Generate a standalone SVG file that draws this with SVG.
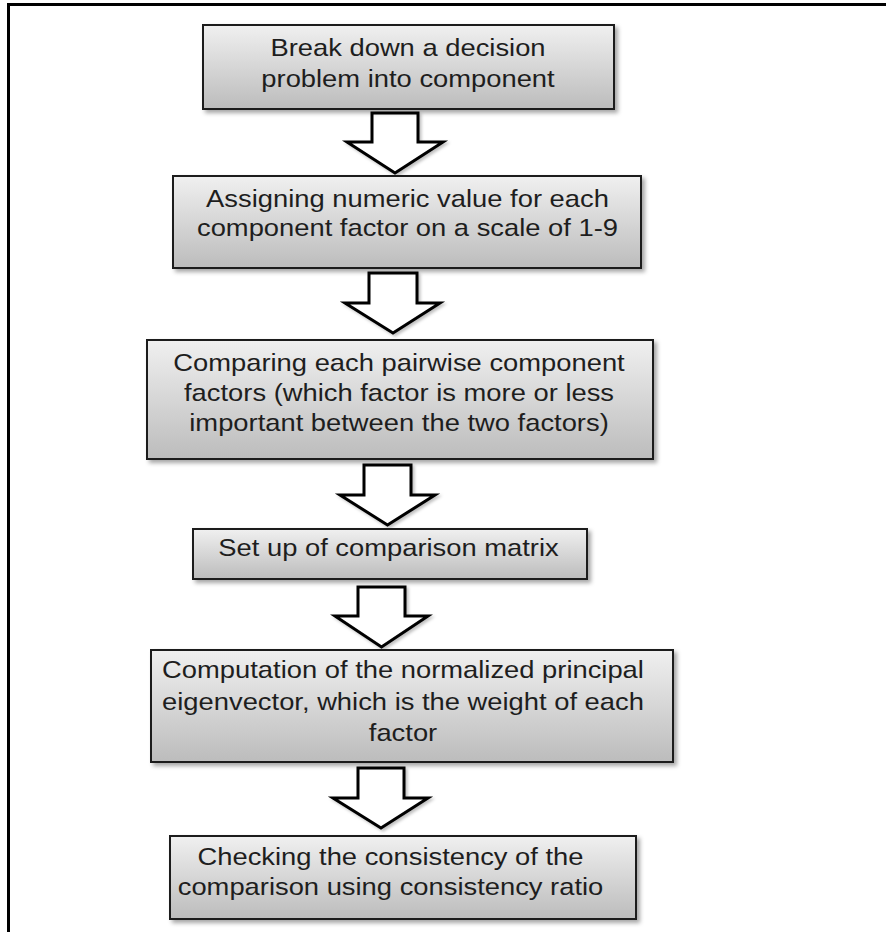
<svg xmlns="http://www.w3.org/2000/svg" width="886" height="932" viewBox="0 0 886 932">
  <style>
    .box { fill: url(#boxGrad); stroke: #1c1c1c; stroke-width: 2; filter: url(#shadow); }
    .arrow { fill: #ffffff; stroke: #000000; stroke-width: 3; stroke-linejoin: miter; filter: url(#shadow2); }
    .lbl { font-family: "Liberation Sans", Arial, sans-serif; font-size: 24px; fill: #1e1e1e; text-anchor: middle; }
    .frame { stroke: #000; stroke-width: 3; fill: none; }
  </style>
  <defs>
    <linearGradient id="boxGrad" x1="0" y1="0" x2="0" y2="1">
      <stop offset="0" stop-color="#f0f0f0"/>
      <stop offset="1" stop-color="#bcbcbc"/>
    </linearGradient>
    <filter id="shadow" x="-5%" y="-10%" width="115%" height="130%">
      <feDropShadow dx="3" dy="3" stdDeviation="2" flood-color="#000" flood-opacity="0.35"/>
    </filter>
    <filter id="shadow2" x="-20%" y="-20%" width="150%" height="150%">
      <feDropShadow dx="2" dy="2" stdDeviation="1.5" flood-color="#000" flood-opacity="0.25"/>
    </filter>
  </defs>
  <rect width="886" height="932" fill="#ffffff"/>
  <g id="frame">
    <line class="frame" x1="7" y1="4.5" x2="886" y2="4.5"/>
    <line class="frame" x1="8.5" y1="3" x2="8.5" y2="932"/>
  </g>

  <g id="connectors">
    <polygon class="arrow" points="372,113 418,113 418,142 443,142 395,173 347,142 372,142"/>
    <polygon class="arrow" points="369,273 417,273 417,303 440,303 393,333 345,303 369,303"/>
    <polygon class="arrow" points="364,465 411,465 411,495 435,495 387.5,525 340,495 364,495"/>
    <polygon class="arrow" points="358,587 405,587 405,616 428,616 381.5,647 335,616 358,616"/>
    <polygon class="arrow" points="358,768 404,768 404,798 428,798 381,828 333,798 358,798"/>
  </g>

  <g id="node1">
    <rect class="box" x="203" y="25" width="411" height="84"/>
    <text class="lbl" transform="translate(408,56) scale(1.14,1)">Break down a decision</text>
    <text class="lbl" transform="translate(408,87) scale(1.14,1)">problem into component</text>
  </g>

  <g id="node2">
    <rect class="box" x="173" y="176" width="468" height="92"/>
    <text class="lbl" transform="translate(407.5,207) scale(1.14,1)">Assigning numeric value for each</text>
    <text class="lbl" transform="translate(407.5,236) scale(1.14,1)">component factor on a scale of 1-9</text>
  </g>

  <g id="node3">
    <rect class="box" x="147" y="340" width="506" height="119"/>
    <text class="lbl" transform="translate(399,371) scale(1.14,1)">Comparing each pairwise component</text>
    <text class="lbl" transform="translate(399,401) scale(1.14,1)">factors (which factor is more or less</text>
    <text class="lbl" transform="translate(399,431) scale(1.14,1)">important between the two factors)</text>
  </g>

  <g id="node4">
    <rect class="box" x="193" y="529" width="394" height="50"/>
    <text class="lbl" transform="translate(388.5,556) scale(1.14,1)">Set up of comparison matrix</text>
  </g>

  <g id="node5">
    <rect class="box" x="151" y="650" width="522" height="112"/>
    <text class="lbl" transform="translate(403,678) scale(1.14,1)">Computation of the normalized principal</text>
    <text class="lbl" transform="translate(403,710) scale(1.14,1)">eigenvector, which is the weight of each</text>
    <text class="lbl" transform="translate(403,741) scale(1.14,1)">factor</text>
  </g>

  <g id="node6">
    <rect class="box" x="170" y="836" width="466" height="83"/>
    <text class="lbl" transform="translate(390.5,865) scale(1.14,1)">Checking the consistency of the</text>
    <text class="lbl" transform="translate(390.5,895) scale(1.14,1)">comparison using consistency ratio</text>
  </g>
</svg>
